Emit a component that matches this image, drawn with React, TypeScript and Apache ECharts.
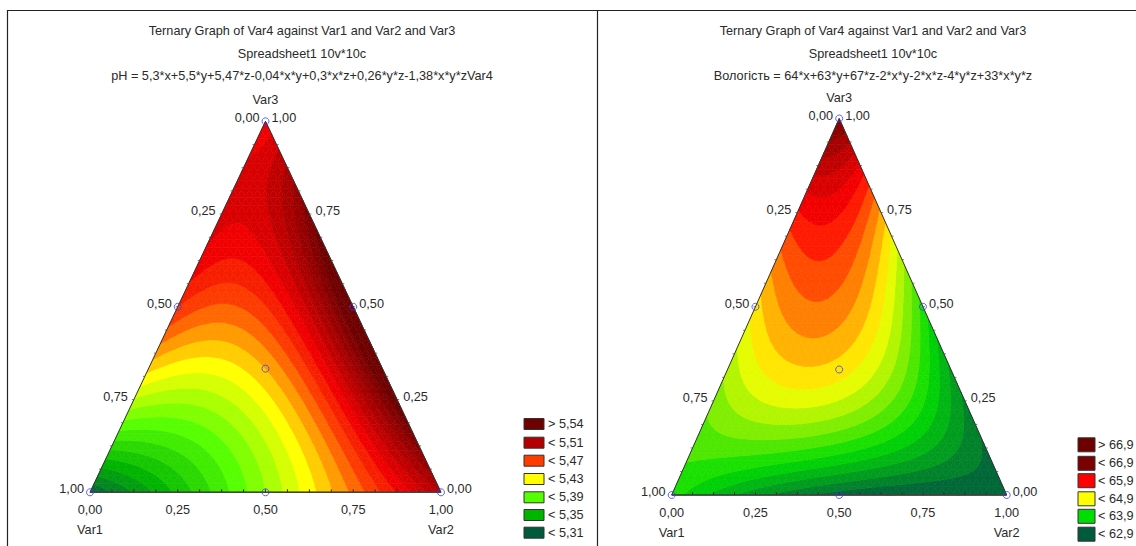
import React, { useEffect, useRef } from "react";
import * as echarts from "echarts";

// ---------- data ----------
const chartTitle = "Ternary Graph of Var4 against Var1 and Var2 and Var3";
const subTitle = "Spreadsheet1 10v*10c";
const phEquation = "pH = 5,3*x+5,5*y+5,47*z-0,04*x*y+0,3*x*z+0,26*y*z-1,38*x*y*zVar4";
const moistEquation = "Вологість = 64*x+63*y+67*z-2*x*y-2*x*z-4*y*z+33*x*y*z";

// coefficients: x, y, z, xy, xz, yz, xyz  (x = Var1, y = Var2, z = Var3)
const phCoefs = [5.3, 5.5, 5.47, -0.04, 0.3, 0.26, -1.38];
const moistCoefs = [64, 63, 67, -2, -2, -4, 33];

const phStopValues = [5.295, 5.335, 5.375, 5.415, 5.452, 5.475, 5.5, 5.535];
const phStopColors = ["#005a3c", "#00b400", "#55ff00", "#ffff00", "#ff4400", "#f00000", "#b40000", "#6e0000"];
const moistStopValues = [62.9, 63.9, 64.9, 65.9, 66.9, 67.9];
const moistStopColors = ["#005a3c", "#00dd00", "#ffff00", "#ff0000", "#800000", "#6e0000"];

const phLevelBase = 5.3;
const phLevelStep = 0.01;
const phLevelCount = 28;
const moistLevelBase = 62.7;
const moistLevelStep = 0.2;
const moistLevelCount = 24;

const phLegendLabels = ["> 5,54", "< 5,51", "< 5,47", "< 5,43", "< 5,39", "< 5,35", "< 5,31"];
const phLegendColors = ["#6e0000", "#b40000", "#ff3c00", "#ffff00", "#55ff00", "#00b400", "#005a3c"];
const moistLegendLabels = ["> 66,9", "< 66,9", "< 65,9", "< 64,9", "< 63,9", "< 62,9"];
const moistLegendColors = ["#6e0000", "#7c0000", "#ff0000", "#ffff00", "#00dd00", "#005a3c"];

const tickValues = [0, 0.25, 0.5, 0.75, 1];
const tickLabels = ["0,00", "0,25", "0,50", "0,75", "1,00"];
const minorTickCount = 16;

const designVar1 = [1, 0, 0, 0.5, 0.5, 0, 0.3333];
const designVar2 = [0, 1, 0, 0.5, 0, 0.5, 0.3333];
const designVar3 = [0, 0, 1, 0, 0.5, 0.5, 0.3333];

// ---------- helpers ----------
const FONT = '12.7px "Liberation Sans", Arial, sans-serif';
const TXT = "#2a2a2a";

function hexToRgb(h: string) {
  const v = parseInt(h.slice(1), 16);
  return [(v >> 16) & 255, (v >> 8) & 255, v & 255];
}
function colorAt(v: number, vals: number[], cols: string[]) {
  if (v <= vals[0]) return cols[0];
  if (v >= vals[vals.length - 1]) return cols[cols.length - 1];
  for (let i = 0; i < vals.length - 1; i++) {
    if (v >= vals[i] && v <= vals[i + 1]) {
      const t = (v - vals[i]) / (vals[i + 1] - vals[i]);
      const a = hexToRgb(cols[i]);
      const b = hexToRgb(cols[i + 1]);
      const c = a.map((x, k) => Math.round(x + (b[k] - x) * t));
      return `rgb(${c[0]},${c[1]},${c[2]})`;
    }
  }
  return cols[0];
}
function model(c: number[], x: number, y: number, z: number) {
  return c[0] * x + c[1] * y + c[2] * z + c[3] * x * y + c[4] * x * z + c[5] * y * z + c[6] * x * y * z;
}
// ternary (Var1, Var2, Var3) -> cartesian data coords
function toXY(v1: number, v2: number, v3: number): [number, number] {
  return [v2 + v3 / 2, v3];
}

type P = [number, number, number];
function clipPoly(poly: P[], level: number, keepAbove: boolean): P[] {
  const out: P[] = [];
  const n = poly.length;
  for (let i = 0; i < n; i++) {
    const a = poly[i];
    const b = poly[(i + 1) % n];
    const ina = keepAbove ? a[2] >= level : a[2] <= level;
    const inb = keepAbove ? b[2] >= level : b[2] <= level;
    if (ina) out.push(a);
    if (ina !== inb) {
      const t = (level - a[2]) / (b[2] - a[2]);
      out.push([a[0] + t * (b[0] - a[0]), a[1] + t * (b[1] - a[1]), level]);
    }
  }
  return out;
}

function buildBands(coefs: number[], base: number, step: number, count: number) {
  const N = 44;
  const bands: number[][][][] = [];
  for (let k = 0; k < count; k++) bands.push([]);
  const vert = (i: number, j: number): P => {
    const v2 = i / N;
    const v3 = j / N;
    const v1 = Math.max(0, 1 - v2 - v3);
    const [X, Y] = toXY(v1, v2, v3);
    return [X, Y, model(coefs, v1, v2, v3)];
  };
  const addTri = (tri: P[]) => {
    const fs = tri.map((p) => p[2]);
    const fmin = Math.min(...fs);
    const fmax = Math.max(...fs);
    let k0 = Math.floor((fmin - base) / step);
    let k1 = Math.floor((fmax - base) / step);
    k0 = Math.max(0, Math.min(count - 1, k0));
    k1 = Math.max(0, Math.min(count - 1, k1));
    for (let k = k0; k <= k1; k++) {
      const lo = base + k * step;
      const hi = lo + step;
      let poly: P[] = tri;
      if (k > 0 && fmin < lo) poly = clipPoly(poly, lo, true);
      if (k < count - 1 && fmax > hi) poly = clipPoly(poly, hi, false);
      if (poly.length >= 3) bands[k].push(poly.map((p) => [p[0], p[1]]));
    }
  };
  for (let i = 0; i < N; i++) {
    for (let j = 0; i + j < N; j++) {
      addTri([vert(i, j), vert(i + 1, j), vert(i, j + 1)]);
      if (i + j < N - 1) addTri([vert(i + 1, j), vert(i + 1, j + 1), vert(i, j + 1)]);
    }
  }
  return bands;
}

function bandSeries(gi: number, coefs: number[], base: number, step: number, count: number, sv: number[], sc: string[]) {
  const bands = buildBands(coefs, base, step, count);
  const colors = bands.map((_, k) => colorAt(base + (k + 0.5) * step, sv, sc));
  return {
    type: "custom",
    coordinateSystem: "cartesian2d",
    xAxisIndex: gi,
    yAxisIndex: gi,
    silent: true,
    z: 1,
    data: bands.map((_, k) => [k]),
    renderItem: (params: any, api: any) => {
      const k = params.dataIndex;
      const col = colors[k];
      return {
        type: "group",
        children: bands[k].map((poly) => ({
          type: "polygon",
          shape: { points: poly.map((p) => api.coord(p)) },
          style: { fill: col, stroke: col, lineWidth: 0.6 },
        })),
      };
    },
  };
}

function txt(text: string, x: number, y: number, align: string) {
  return {
    type: "text",
    style: {
      text, x, y, font: FONT, fill: TXT,
      align, verticalAlign: "middle", textAlign: align, textVerticalAlign: "middle",
    },
  };
}

function frameSeries(gi: number) {
  return {
    type: "custom",
    coordinateSystem: "cartesian2d",
    xAxisIndex: gi,
    yAxisIndex: gi,
    silent: true,
    z: 3,
    data: [[0]],
    renderItem: (_params: any, api: any) => {
      const A = api.coord(toXY(1, 0, 0));
      const B = api.coord(toXY(0, 1, 0));
      const C = api.coord(toXY(0, 0, 1));
      const children: any[] = [];
      children.push({
        type: "polygon",
        shape: { points: [A, B, C] },
        style: { fill: "none", stroke: "#333", lineWidth: 1 },
      });
      children.push({
        type: "line",
        shape: { x1: A[0], y1: A[1], x2: B[0], y2: B[1] },
        style: { stroke: "#444", lineWidth: 1.6 },
      });
      for (let m = 1; m < minorTickCount; m++) {
        const v = m / minorTickCount;
        const pb = api.coord(toXY(1 - v, v, 0));
        children.push({ type: "line", shape: { x1: pb[0], y1: pb[1], x2: pb[0], y2: pb[1] - 3 }, style: { stroke: "#333", lineWidth: 1 } });
        const pl = api.coord(toXY(v, 0, 1 - v));
        children.push({ type: "line", shape: { x1: pl[0], y1: pl[1], x2: pl[0] - 2, y2: pl[1] }, style: { stroke: "#555", lineWidth: 0.8 } });
        const pr = api.coord(toXY(0, 1 - v, v));
        children.push({ type: "line", shape: { x1: pr[0], y1: pr[1], x2: pr[0] + 2, y2: pr[1] }, style: { stroke: "#555", lineWidth: 0.8 } });
      }
      tickValues.forEach((v, i) => {
        const pb = api.coord(toXY(1 - v, v, 0));
        children.push(txt(tickLabels[i], pb[0], pb[1] + 18, "center"));
        const pl = api.coord(toXY(v, 0, 1 - v));
        children.push(txt(tickLabels[i], pl[0] - 6, pl[1] - 3, "right"));
        const pr = api.coord(toXY(0, 1 - v, v));
        children.push(txt(tickLabels[i], pr[0] + 6, pr[1] - 3, "left"));
      });
      children.push(txt("Var3", C[0], C[1] - 21, "center"));
      children.push(txt("Var1", A[0], A[1] + 38, "center"));
      children.push(txt("Var2", B[0], B[1] + 38, "center"));
      return { type: "group", children };
    },
  };
}

function pointSeries(gi: number) {
  return {
    type: "scatter",
    xAxisIndex: gi,
    yAxisIndex: gi,
    silent: true,
    z: 5,
    symbol: "circle",
    symbolSize: 7,
    itemStyle: { color: "rgba(0,0,0,0)", borderColor: "#3a3aff", borderWidth: 1 },
    data: designVar1.map((v1, i) => toXY(v1, designVar2[i], designVar3[i])),
  };
}

function legendGraphics(x0: number, yc: number[], bw: number, bh: number, gap: number, labels: string[], colors: string[]) {
  const els: any[] = [];
  labels.forEach((lab, i) => {
    els.push({
      type: "rect",
      shape: { x: x0, y: yc[i] - bh / 2, width: bw, height: bh },
      style: { fill: colors[i], stroke: "#333", lineWidth: 1 },
    });
    els.push({
      type: "text",
      x: x0 + bw + gap,
      y: yc[i],
      style: { text: lab, font: FONT, fill: TXT, textVerticalAlign: "middle", verticalAlign: "middle" },
    });
  });
  return els;
}

function titleGraphics(cx: number, eq: string) {
  const lines = [chartTitle, subTitle, eq];
  const ys = [31, 53.5, 76];
  return lines.map((t, i) => ({
    type: "text",
    x: cx,
    y: ys[i],
    style: { text: t, font: FONT, fill: TXT, textAlign: "center", textVerticalAlign: "middle", align: "center", verticalAlign: "middle" },
  }));
}

export default function App() {
  const ref = useRef<HTMLDivElement>(null);
  useEffect(() => {
    if (!ref.current) return;
    const chart = echarts.init(ref.current, null, { renderer: "svg" });
    const option: any = {
      animation: false,
      backgroundColor: "#ffffff",
      grid: [
        { left: 90, top: 121.3, width: 351, height: 371 },
        { left: 671.7, top: 118.5, width: 335, height: 376.5 },
      ],
      xAxis: [
        { gridIndex: 0, type: "value", min: 0, max: 1, show: false },
        { gridIndex: 1, type: "value", min: 0, max: 1, show: false },
      ],
      yAxis: [
        { gridIndex: 0, type: "value", min: 0, max: 1, show: false },
        { gridIndex: 1, type: "value", min: 0, max: 1, show: false },
      ],
      series: [
        bandSeries(0, phCoefs, phLevelBase, phLevelStep, phLevelCount, phStopValues, phStopColors),
        bandSeries(1, moistCoefs, moistLevelBase, moistLevelStep, moistLevelCount, moistStopValues, moistStopColors),
        frameSeries(0),
        frameSeries(1),
        pointSeries(0),
        pointSeries(1),
      ],
      graphic: [
        { type: "line", shape: { x1: 7, y1: 10.5, x2: 1136, y2: 10.5 }, style: { stroke: "#222", lineWidth: 1.2 } },
        { type: "line", shape: { x1: 7.5, y1: 10, x2: 7.5, y2: 546 }, style: { stroke: "#222", lineWidth: 1.2 } },
        { type: "line", shape: { x1: 597.5, y1: 10, x2: 597.5, y2: 546 }, style: { stroke: "#222", lineWidth: 1.2 } },
        ...titleGraphics(302, phEquation),
        ...titleGraphics(873, moistEquation),
        ...legendGraphics(524, [424, 442.7, 460.7, 479, 497.3, 515, 532.7], 20, 11, 4, phLegendLabels, phLegendColors),
        ...legendGraphics(1078, [444.8, 463.3, 480.7, 498.8, 516.3, 534.2], 17, 14, 3, moistLegendLabels, moistLegendColors),
      ],
    };
    chart.setOption(option);
    return () => chart.dispose();
  }, []);
  return <div ref={ref} style={{ position: "absolute", left: 0, top: 0, width: 1136, height: 546 }} />;
}
